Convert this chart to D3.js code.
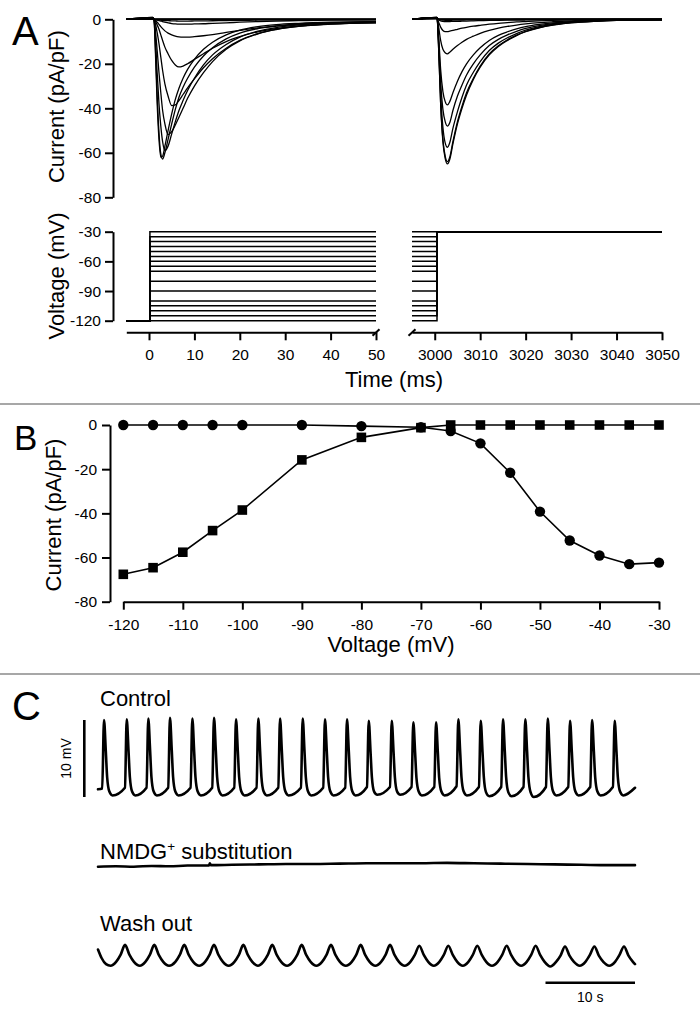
<!DOCTYPE html>
<html><head><meta charset="utf-8">
<script src="https://cdn.jsdelivr.net/npm/d3@7"></script>
<style>
html,body{margin:0;padding:0;background:#fff;}
svg{display:block;}
</style></head><body>
<svg id="fig" width="700" height="1017"></svg>
<script>
// ---------------- DATA ----------------
// Panel A / B: step voltages (mV)
const stepVoltages = [-120,-115,-110,-105,-100,-90,-80,-70,-65,-60,-55,-50,-45,-40,-35,-30];
// Panel B: peak current during step (circles) and during -30 mV test pulse (squares), pA/pF
const peakStepCurrent = [0,0,0,0,0,0,-0.5,-1,-2.7,-8.3,-21.6,-39.2,-52.3,-59.1,-63,-62.3];
const peakTestCurrent = [-67.6,-64.6,-57.6,-47.8,-38.5,-15.8,-5.6,-1.2,0,0,0,0,0,0,0,0];
// Axis ticks
const currentTicks = [0,-20,-40,-60,-80];
const voltageTicks = [-30,-60,-90,-120];
const timeTicksLeft = [0,10,20,30,40,50];
const timeTicksRight = [3000,3010,3020,3030,3040,3050];
const ivXTicks = [-120,-110,-100,-90,-80,-70,-60,-50,-40,-30];
const ivYTicks = [0,-20,-40,-60,-80];
// Protocol step times (ms)
const protocolLeft = [-5, 0.2, 50];
const protocolRight = [2995, 3000.5, 3050];

// Panel A left current traces (pA/pF) sampled at leftTime (ms)
const leftTime = [-5,0.8,1.1,1.4,1.8,2.2,2.6,3.0,3.5,4.2,5.0,5.8,6.6,7.5,8.5,10,12,14,17,20,24,28,33,40,50];
const leftFlat = [0,0.1,0,0,0,0,0,0,0,0,0,0,0,0,0,0,0,0,0,0,0,0,0,0,0];
const leftM70 = [0,0.1,0,-0.1,-0.2,-0.3,-0.4,-0.5,-0.55,-0.6,-0.7,-0.75,-0.8,-0.8,-0.8,-0.75,-0.7,-0.65,-0.55,-0.5,-0.4,-0.35,-0.3,-0.2,-0.2];
const leftM65 = [0,0.2,0,-0.2,-0.4,-0.6,-0.8,-1.0,-1.3,-1.6,-1.9,-2.1,-2.2,-2.2,-2.2,-2.1,-2,-1.8,-1.6,-1.3,-1.0,-0.8,-0.6,-0.4,-0.3];
const leftM60 = [0,0.3,0,-0.5,-1.3,-2.3,-3.3,-4.2,-5.2,-6.2,-7,-7.6,-7.9,-8,-8,-7.8,-7.4,-6.9,-5.9,-5,-3.9,-3.1,-2.3,-1.7,-1.2];
const leftM55 = [0,0.4,0,-1,-2.5,-4.5,-7,-9.5,-12.5,-15.5,-18.5,-20.5,-21.4,-21,-20,-18,-15.5,-13,-10,-7.8,-5.6,-4.2,-3,-2.1,-1.5];
const leftM50 = [0,0.5,0,-2,-6,-11,-17,-23,-29,-34.5,-38.8,-38.5,-36.5,-33.8,-30.8,-26.8,-21.8,-17.7,-13,-9.5,-6.4,-4.6,-3.2,-2.2,-1.6];
const leftM45 = [0,0.6,0,-5,-14,-24,-33,-41,-47,-51.8,-50.5,-47.5,-44,-40,-35.5,-30,-24,-19,-13.5,-9.7,-6.5,-4.5,-3.1,-2.1,-1.5];
const leftM40 = [0,0.7,0,-8,-24,-38,-48,-55,-59,-57,-51.5,-46,-41,-36.5,-32,-26.5,-20.5,-16,-11.3,-8,-5.3,-3.7,-2.6,-1.8,-1.3];
const leftM35 = [0,0.8,0,-12,-34,-51,-60.5,-62.8,-60,-54,-47,-40.5,-35,-30.5,-26.5,-21.5,-16.5,-12.8,-8.8,-6.2,-4.2,-3.0,-2.1,-1.5,-1.1];
const leftM30 = [0,0.8,0,-14,-38,-54,-62,-61.5,-57,-50,-42.5,-36,-31,-26.5,-22.5,-18,-13.5,-10.3,-7,-4.9,-3.3,-2.4,-1.8,-1.3,-1.0];

// Panel A right current traces (test pulse to -30 mV) sampled at rightTime (ms)
const rightTime = [2995,3000.5,3000.9,3001.3,3001.8,3002.3,3002.8,3003.3,3004,3005,3006,3007,3008.5,3010,3012,3014,3016,3018,3020,3023,3026,3030,3035,3040,3050];
const rightFlat = [0,0.6,0,0,0,0,0,0,0,0,0,0,0,0,0,0,0,0,0,0,0,0,0,0,0];
const rightM65 = [0,0.3,-0.1,-0.3,-0.4,-0.45,-0.45,-0.45,-0.4,-0.4,-0.35,-0.3,-0.3,-0.25,-0.2,-0.2,-0.15,-0.1,-0.1,-0.1,0,0,0,0,0];
const rightM70 = [0,0.3,-0.3,-0.7,-0.9,-1,-1,-1,-0.95,-0.9,-0.85,-0.8,-0.7,-0.6,-0.5,-0.45,-0.4,-0.35,-0.3,-0.2,-0.15,-0.1,-0.05,0,0];
const rightM80 = [0,0.4,-1.5,-3.5,-5,-5.5,-5.5,-5.3,-5,-4.5,-4,-3.6,-3.1,-2.7,-2.2,-1.8,-1.5,-1.2,-1,-0.7,-0.5,-0.3,-0.2,-0.1,0];
const rightM90 = [0,0.5,-4,-9.5,-13.5,-15,-15.5,-14.8,-13.5,-11.8,-10.3,-9,-7.6,-6.3,-5,-4,-3.2,-2.6,-2.1,-1.5,-1.1,-0.7,-0.4,-0.2,-0.1];
const rightM100 = [0,0.6,-9,-22.5,-32.5,-37,-38.5,-37,-33,-27.8,-23.5,-20,-16,-12.8,-9.5,-7.2,-5.6,-4.3,-3.3,-2.3,-1.6,-1,-0.6,-0.3,-0.1];
const rightM105 = [0,0.7,-11,-28,-40.5,-46,-48,-46.5,-41,-34.5,-29.5,-25,-20,-16,-11.8,-9,-7,-5.4,-4.1,-2.8,-1.9,-1.2,-0.7,-0.4,-0.2];
const rightM110 = [0,0.8,-13,-33.5,-48.5,-55.5,-57.5,-55.5,-49,-41.5,-35,-29.5,-23.8,-19,-14,-10.7,-8.3,-6.4,-4.9,-3.3,-2.3,-1.4,-0.8,-0.4,-0.2];
const rightM115 = [0,0.8,-15,-37.5,-54,-61.5,-64,-62,-55,-46,-39,-33,-26.5,-21,-15.6,-11.9,-9.2,-7.1,-5.4,-3.7,-2.5,-1.5,-0.9,-0.5,-0.2];
const rightM120 = [0,0.8,-15,-38,-55,-62.5,-65,-63,-56,-47,-40,-34,-27,-21.5,-16,-12.2,-9.5,-7.3,-5.6,-3.8,-2.6,-1.6,-0.9,-0.5,-0.2];

// Panel C traces: [time (s), membrane potential (mV, relative)]
const controlTrace = [
[0,1.0],[0.47,1.1],[0.67,10.0],[0.87,6.0],[1.02,2.6],[1.27,0.7],[1.62,0.2],
[3.01,1.2],[3.21,10.1],[3.41,6.0],[3.56,2.6],[3.81,0.7],[4.16,0.2],
[5.42,1.2],[5.62,10.2],[5.82,6.1],[5.97,2.6],[6.22,0.7],[6.57,0.2],
[7.84,1.2],[8.04,10.3],[8.24,6.1],[8.39,2.6],[8.64,0.7],[8.99,0.2],
[10.34,1.2],[10.54,10.2],[10.74,6.0],[10.89,2.6],[11.14,0.7],[11.49,0.2],
[12.76,1.2],[12.96,10.3],[13.16,6.1],[13.31,2.6],[13.56,0.7],[13.91,0.2],
[15.22,1.2],[15.42,10.1],[15.62,6.0],[15.77,2.6],[16.02,0.7],[16.37,0.2],
[17.71,1.2],[17.91,10.2],[18.11,6.0],[18.26,2.6],[18.51,0.7],[18.86,0.2],
[20.14,1.2],[20.34,10.2],[20.54,6.0],[20.69,2.6],[20.94,0.7],[21.29,0.2],
[22.67,1.2],[22.87,10.2],[23.07,6.0],[23.22,2.6],[23.47,0.7],[23.82,0.2],
[25.16,1.2],[25.36,10.1],[25.56,6.0],[25.71,2.6],[25.96,0.7],[26.31,0.2],
[27.62,1.2],[27.82,10.1],[28.02,6.0],[28.17,2.6],[28.42,0.7],[28.77,0.2],
[30.05,1.3],[30.25,9.9],[30.45,5.9],[30.60,2.6],[30.85,0.7],[31.20,0.3],
[32.62,1.3],[32.82,9.9],[33.02,5.9],[33.17,2.6],[33.42,0.7],[33.77,0.3],
[35.03,1.3],[35.23,9.7],[35.43,5.8],[35.58,2.5],[35.83,0.7],[36.18,0.2],
[37.57,1.3],[37.77,9.7],[37.97,5.8],[38.12,2.5],[38.37,0.7],[38.72,0.2],
[40.06,1.4],[40.26,10.1],[40.46,6.0],[40.61,2.6],[40.86,0.7],[41.21,0.2],
[42.56,1.3],[42.76,9.9],[42.96,5.9],[43.11,2.6],[43.36,0.6],[43.71,0.1],
[45.05,1.3],[45.25,10.1],[45.45,6.0],[45.60,2.6],[45.85,0.6],[46.20,0.1],
[47.54,1.3],[47.74,10.1],[47.94,6.0],[48.09,2.6],[48.34,0.6],[48.69,0.0],
[50.05,1.3],[50.25,10.2],[50.45,6.0],[50.60,2.6],[50.85,0.7],[51.20,0.2],
[52.54,1.3],[52.74,9.9],[52.94,5.9],[53.09,2.6],[53.34,0.7],[53.69,0.2],
[55.00,1.3],[55.20,10.0],[55.40,6.0],[55.55,2.6],[55.80,0.7],[56.15,0.2],
[57.53,1.3],[57.73,9.9],[57.93,5.9],[58.08,2.6],[58.33,0.7],[58.68,0.2],
[60.0,1.2]];
const nmdgTrace = [
[0,0],[2,0.05],[4,0.0],[6,0.1],[8,0.05],[10,0.15],[12.4,0.15],[12.5,0.45],[12.6,0.2],
[15,0.25],[18,0.3],[21,0.35],[24,0.35],[27,0.4],[30,0.45],[33,0.45],[36,0.45],[39,0.5],
[42,0.45],[45,0.4],[48,0.35],[51,0.3],[54,0.25],[57,0.2],[60,0.2]];
const washTrace = [
[0,2.1],[0.4,1.0],[0.9,0.2],[1.4,0.0],
[2.02,0.5],[2.52,1.4],[3.02,2.7],[3.52,1.4],[4.02,0.5],[4.67,0.0],
[5.29,0.5],[5.79,1.4],[6.29,2.7],[6.79,1.4],[7.29,0.5],[7.94,0.0],
[8.64,0.5],[9.14,1.4],[9.64,2.7],[10.14,1.4],[10.64,0.5],[11.3,0.0],
[11.96,0.5],[12.46,1.4],[12.96,2.7],[13.46,1.4],[13.96,0.5],[14.6,0.0],
[15.24,0.5],[15.74,1.4],[16.24,2.7],[16.74,1.4],[17.24,0.5],[17.86,0.0],
[18.47,0.5],[18.97,1.4],[19.47,2.7],[19.97,1.4],[20.47,0.5],[21.12,0.0],
[21.76,0.5],[22.26,1.4],[22.76,2.7],[23.26,1.4],[23.76,0.5],[24.4,0.0],
[25.03,0.5],[25.53,1.4],[26.03,2.7],[26.53,1.4],[27.03,0.5],[27.69,0.0],
[28.35,0.5],[28.85,1.4],[29.35,2.7],[29.85,1.4],[30.35,0.5],[30.99,0.0],
[31.63,0.5],[32.13,1.4],[32.63,2.7],[33.13,1.4],[33.63,0.5],[34.27,0.0],
[34.9,0.5],[35.4,1.4],[35.9,2.6],[36.4,1.4],[36.9,0.5],[37.52,0.0],
[38.14,0.5],[38.64,1.4],[39.14,2.6],[39.64,1.4],[40.14,0.5],[40.76,0.0],
[41.38,0.5],[41.88,1.4],[42.38,2.6],[42.88,1.4],[43.38,0.5],[44.02,0.0],
[44.66,0.5],[45.16,1.4],[45.66,2.6],[46.16,1.4],[46.66,0.5],[47.28,0.0],
[47.9,0.5],[48.4,1.4],[48.9,2.6],[49.4,1.4],[49.9,0.5],[50.54,-0.1],
[51.18,0.5],[51.68,1.3],[52.18,2.5],[52.68,1.3],[53.18,0.5],[53.82,0.0],
[54.46,0.5],[54.96,1.4],[55.46,2.5],[55.96,1.3],[56.46,0.5],[57.12,0.0],
[57.77,0.5],[58.27,1.4],[58.77,2.5],[59.27,1.3],[59.77,0.5],[60.0,0.2]];
const traceLabels = ["Control", "NMDG", "Wash out"];
const scaleBarMV = 10;        // mV
const scaleBarSec = [50, 60]; // s

// ---------------- DRAWING ----------------
const FONT = "'Liberation Sans', Arial, Helvetica, sans-serif";
const svg = d3.select("#fig").attr("font-family", FONT);
const TICK_FS = 15.5, TITLE_FS = 22;

function styleAxis(g, fs) {
  g.attr("font-family", FONT).attr("font-size", fs);
  g.selectAll("path,line").attr("stroke", "#000").attr("stroke-width", 2);
  g.selectAll("text").attr("fill", "#000");
}
const fmt = d => String(d);

// ===== Panel A =====
const xL = d3.scaleLinear().domain([-5, 50]).range([126.3, 376]);
const xR = d3.scaleLinear().domain([2995, 3050]).range([412, 662]);
const yI = d3.scaleLinear().domain([-80, 0]).range([197.3, 19.3]);
const yV = d3.scaleLinear().domain([-120, -30]).range([320.7, 231.7]);

const leftSets = {"-120":leftFlat,"-115":leftFlat,"-110":leftFlat,"-105":leftFlat,"-100":leftFlat,"-90":leftFlat,"-80":leftFlat,
  "-70":leftM70,"-65":leftM65,"-60":leftM60,"-55":leftM55,"-50":leftM50,"-45":leftM45,"-40":leftM40,"-35":leftM35,"-30":leftM30};
const rightSets = {"-120":rightM120,"-115":rightM115,"-110":rightM110,"-105":rightM105,"-100":rightM100,"-90":rightM90,"-80":rightM80,
  "-70":rightM70,"-65":rightM65,"-60":rightFlat,"-55":rightFlat,"-50":rightFlat,"-45":rightFlat,"-40":rightFlat,"-35":rightFlat,"-30":rightFlat};

const lineLeft = d3.line().x((d, i) => xL(leftTime[i])).y(d => yI(d)).curve(d3.curveMonotoneX);
const lineRight = d3.line().x((d, i) => xR(rightTime[i])).y(d => yI(d)).curve(d3.curveMonotoneX);

const gA = svg.append("g");
gA.selectAll("path.tl").data(stepVoltages).join("path").attr("class","tl")
  .attr("d", v => lineLeft(leftSets[String(v)]))
  .attr("fill","none").attr("stroke","#000").attr("stroke-width",1.3).attr("stroke-linejoin","round");
gA.selectAll("path.tr").data(stepVoltages).join("path").attr("class","tr")
  .attr("d", v => lineRight(rightSets[String(v)]))
  .attr("fill","none").attr("stroke","#000").attr("stroke-width",1.3).attr("stroke-linejoin","round");

gA.append("g").attr("transform","translate(113,0)")
  .call(d3.axisLeft(yI).tickValues(currentTicks).tickSize(8).tickSizeOuter(0).tickPadding(4).tickFormat(fmt))
  .call(g => styleAxis(g, TICK_FS));

// Voltage protocol
const protoLine = d3.line().x(d => d[0]).y(d => d[1]);
stepVoltages.forEach(v => {
  const ptsL = [[xL(protocolLeft[0]), yV(-120)], [xL(protocolLeft[1]), yV(-120)], [xL(protocolLeft[1]), yV(v)], [xL(protocolLeft[2]), yV(v)]];
  gA.append("path").attr("d", protoLine(ptsL)).attr("fill","none").attr("stroke","#000").attr("stroke-width",1.5);
  const ptsR = [[xR(protocolRight[0]), yV(v)], [xR(protocolRight[1]), yV(v)], [xR(protocolRight[1]), yV(-30)], [xR(protocolRight[2]), yV(-30)]];
  gA.append("path").attr("d", protoLine(ptsR)).attr("fill","none").attr("stroke","#000").attr("stroke-width",1.5);
});

gA.append("g").attr("transform","translate(113,0)")
  .call(d3.axisLeft(yV).tickValues(voltageTicks).tickSize(8).tickSizeOuter(0).tickPadding(4).tickFormat(fmt))
  .call(g => styleAxis(g, TICK_FS));

const axY = 332.3;
gA.append("g").attr("transform",`translate(0,${axY})`)
  .call(d3.axisBottom(xL).tickValues(timeTicksLeft).tickSize(8).tickSizeOuter(0).tickPadding(9).tickFormat(fmt))
  .call(g => styleAxis(g, TICK_FS));
gA.append("g").attr("transform",`translate(0,${axY})`)
  .call(d3.axisBottom(xR).tickValues(timeTicksRight).tickSize(8).tickSizeOuter(0).tickPadding(9).tickFormat(fmt))
  .call(g => styleAxis(g, TICK_FS));
[xL.range()[1], xR.range()[0]].forEach(bx => {
  gA.append("line").attr("x1", bx - 3.5).attr("y1", axY + 3.5).attr("x2", bx + 3.5).attr("y2", axY - 3)
    .attr("stroke","#000").attr("stroke-width",2);
});

gA.append("text").attr("transform","translate(64,106.7) rotate(-90)").attr("text-anchor","middle")
  .attr("font-size",TITLE_FS).text("Current (pA/pF)");
gA.append("text").attr("transform","translate(64,276) rotate(-90)").attr("text-anchor","middle")
  .attr("font-size",TITLE_FS).text("Voltage (mV)");
gA.append("text").attr("x",394).attr("y",386.5).attr("text-anchor","middle")
  .attr("font-size",TITLE_FS).text("Time (ms)");
gA.append("text").attr("x",12).attr("y",45).attr("font-size",40).text("A");

svg.append("line").attr("x1",0).attr("x2",700).attr("y1",404).attr("y2",404).attr("stroke","#8a8a8a").attr("stroke-width",1.5);
svg.append("line").attr("x1",0).attr("x2",700).attr("y1",674).attr("y2",674).attr("stroke","#8a8a8a").attr("stroke-width",1.5);

// ===== Panel B =====
const xB = d3.scaleLinear().domain([-120, -30]).range([123.3, 659]);
const yB = d3.scaleLinear().domain([-80, 0]).range([601.7, 425]);
const gB = svg.append("g");
gB.append("g").attr("transform","translate(110,0)")
  .call(d3.axisLeft(yB).tickValues(ivYTicks).tickSize(8).tickSizeOuter(0).tickPadding(5).tickFormat(fmt))
  .call(g => styleAxis(g, TICK_FS));
gB.append("g").attr("transform","translate(0,601.7)")
  .call(d3.axisBottom(xB).tickValues(ivXTicks).tickSize(8).tickSizeOuter(0).tickPadding(9).tickFormat(fmt))
  .call(g => styleAxis(g, TICK_FS));

const circData = stepVoltages.map((v, i) => [v, peakStepCurrent[i]]);
const sqData = stepVoltages.map((v, i) => [v, peakTestCurrent[i]]);
const ivLine = d3.line().x(d => xB(d[0])).y(d => yB(d[1]));
gB.append("path").attr("d", ivLine(sqData)).attr("fill","none").attr("stroke","#000").attr("stroke-width",1.6);
gB.append("path").attr("d", ivLine(circData)).attr("fill","none").attr("stroke","#000").attr("stroke-width",1.6);
gB.selectAll("path.sq").data(sqData).join("path").attr("class","sq")
  .attr("transform", d => `translate(${xB(d[0])},${yB(d[1])})`)
  .attr("d", d3.symbol(d3.symbolSquare).size(92)).attr("fill","#000");
gB.selectAll("circle").data(circData).join("circle")
  .attr("cx", d => xB(d[0])).attr("cy", d => yB(d[1])).attr("r", 5.2).attr("fill","#000");

gB.append("text").attr("transform","translate(61,515) rotate(-90)").attr("text-anchor","middle")
  .attr("font-size",TITLE_FS).text("Current (pA/pF)");
gB.append("text").attr("x",391).attr("y",652).attr("text-anchor","middle")
  .attr("font-size",TITLE_FS).text("Voltage (mV)");
gB.append("text").attr("x",14).attr("y",450).attr("font-size",35).text("B");

// ===== Panel C =====
const xC = d3.scaleLinear().domain([0, 60]).range([98, 635]);
const yCtrl = d3.scaleLinear().domain([0, 10]).range([797, 720]);
const yNmdg = d3.scaleLinear().domain([0, 10]).range([866.7, 789.7]);
const yWash = d3.scaleLinear().domain([0, 10]).range([965.7, 888.7]);
const gC = svg.append("g");
const traceStyle = p => p.attr("fill","none").attr("stroke","#000").attr("stroke-width",2.6)
  .attr("stroke-linejoin","round").attr("stroke-linecap","round");

gC.append("path").attr("d", d3.line().x(d => xC(d[0])).y(d => yCtrl(d[1])).curve(d3.curveMonotoneX)(controlTrace)).call(traceStyle);
gC.append("path").attr("d", d3.line().x(d => xC(d[0])).y(d => yNmdg(d[1])).curve(d3.curveMonotoneX)(nmdgTrace)).call(traceStyle);
gC.append("path").attr("d", d3.line().x(d => xC(d[0])).y(d => yWash(d[1])).curve(d3.curveMonotoneX)(washTrace)).call(traceStyle);

gC.append("line").attr("x1",84.3).attr("x2",84.3).attr("y1",yCtrl(0)).attr("y2",yCtrl(scaleBarMV))
  .attr("stroke","#000").attr("stroke-width",2.6);
gC.append("text").attr("transform",`translate(71,${(yCtrl(0)+yCtrl(scaleBarMV))/2}) rotate(-90)`).attr("text-anchor","middle")
  .attr("font-size",14).text(scaleBarMV + " mV");
gC.append("line").attr("x1",xC(scaleBarSec[0])).attr("x2",xC(scaleBarSec[1])).attr("y1",982.7).attr("y2",982.7)
  .attr("stroke","#000").attr("stroke-width",2.6);
gC.append("text").attr("x",(xC(scaleBarSec[0])+xC(scaleBarSec[1]))/2).attr("y",1001.5).attr("text-anchor","middle")
  .attr("font-size",14).text((scaleBarSec[1]-scaleBarSec[0]) + " s");

gC.append("text").attr("x",100).attr("y",706).attr("font-size",22).text(traceLabels[0]);
const nm = gC.append("text").attr("x",100).attr("y",859).attr("font-size",22);
nm.append("tspan").text(traceLabels[1]);
nm.append("tspan").attr("dy",-8).attr("font-size",13.5).text("+");
nm.append("tspan").attr("dy",8).text(" substitution");
gC.append("text").attr("x",100).attr("y",931).attr("font-size",22).text(traceLabels[2]);
gC.append("text").attr("x",12).attr("y",720).attr("font-size",40).text("C");
</script></body></html>
